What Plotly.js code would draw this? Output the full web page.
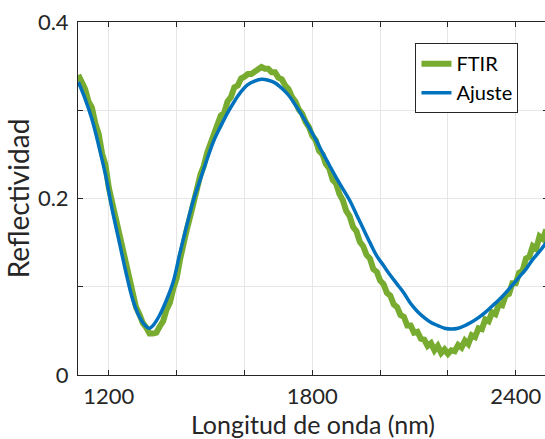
<!DOCTYPE html>
<html>
<head>
<meta charset="utf-8">
<script src="https://cdn.plot.ly/plotly-3.0.1.min.js"></script>
<style>html,body{margin:0;padding:0;overflow:hidden;background:#fff;}</style>
</head>
<body>
<div id="chart"></div>
<script>
// Wavelength grid (nm) for the FTIR measurement
const ftirX = [1110,1120,1130,1140,1150,1160,1170,1180,1190,1200,1210,1220,1230,1240,1250,1260,1270,1280,1290,1300,
1310,1320,1330,1340,1350,1360,1370,1380,1390,1400,1410,1420,1430,1440,1450,1460,1470,1480,1490,1500,
1510,1520,1530,1540,1550,1560,1570,1580,1590,1600,1610,1620,1630,1640,1650,1660,1670,1680,1690,1700,
1710,1720,1730,1740,1750,1760,1770,1780,1790,1800,1810,1820,1830,1840,1850,1860,1870,1880,1890,1900,
1910,1920,1930,1940,1950,1960,1970,1980,1990,2000,2010,2020,2030,2040,2050,2060,2070,2080,2090,2100,
2110,2120,2130,2140,2150,2160,2170,2180,2190,2200,2210,2220,2230,2240,2250,2260,2270,2280,2290,2300,
2310,2320,2330,2340,2350,2360,2370,2380,2390,2400,2410,2420,2430,2440,2450,2460,2470,2480,2490];
// Measured reflectivity (FTIR)
const ftirY = [0.340,0.333,0.324,0.310,0.303,0.285,0.273,0.251,0.238,0.212,0.195,0.175,0.158,0.139,0.122,0.104,0.091,0.077,0.069,0.059,
0.054,0.047,0.047,0.048,0.055,0.061,0.074,0.082,0.098,0.110,0.131,0.145,0.165,0.180,0.199,0.211,0.227,0.237,0.252,0.262,
0.274,0.282,0.294,0.297,0.310,0.315,0.326,0.328,0.336,0.338,0.341,0.341,0.344,0.345,0.349,0.347,0.347,0.343,0.343,0.337,
0.335,0.328,0.324,0.315,0.310,0.301,0.296,0.287,0.281,0.271,0.266,0.254,0.250,0.239,0.234,0.221,0.217,0.205,0.198,0.186,
0.180,0.168,0.163,0.151,0.146,0.136,0.132,0.120,0.117,0.107,0.103,0.093,0.090,0.080,0.077,0.068,0.066,0.056,0.056,0.048,
0.049,0.041,0.040,0.033,0.036,0.028,0.033,0.025,0.029,0.024,0.028,0.027,0.034,0.031,0.039,0.035,0.045,0.043,0.053,0.052,
0.063,0.061,0.071,0.069,0.080,0.079,0.090,0.092,0.104,0.104,0.116,0.118,0.132,0.134,0.146,0.143,0.157,0.154,0.165];

// Fitted model (Ajuste)
const ajusteX = [1110,1130,1150,1170,1190,1210,1230,1250,1270,1290,1310,1320,1330,1350,1370,1390,1410,1430,1450,1470,
1490,1510,1530,1550,1570,1590,1610,1630,1650,1670,1690,1710,1730,1750,1770,1790,1810,1830,1850,1870,
1890,1910,1930,1950,1970,1990,2010,2030,2050,2070,2090,2110,2130,2150,2170,2190,2210,2230,2250,2270,
2290,2310,2330,2350,2370,2390,2410,2430,2450,2470,2490];
const ajusteY = [0.332,0.313,0.290,0.260,0.227,0.187,0.152,0.117,0.086,0.066,0.055,0.053,0.056,0.068,0.085,0.106,0.139,0.170,0.199,0.222,
0.245,0.266,0.282,0.297,0.310,0.321,0.329,0.333,0.335,0.334,0.331,0.325,0.317,0.306,0.294,0.281,0.267,0.252,0.238,0.224,
0.211,0.198,0.182,0.166,0.150,0.135,0.124,0.113,0.103,0.093,0.081,0.072,0.065,0.0595,0.056,0.053,0.052,0.053,0.056,0.060,
0.065,0.071,0.078,0.085,0.093,0.102,0.111,0.120,0.131,0.140,0.150];

const xTickVals = [1200,1400,1600,1800,2000,2200,2400];
const xTickText = ['1200','','','1800','','','2400'];
const yTickVals = [0,0.1,0.2,0.3,0.4];
const yTickText = ['0','','0.2','','0.4'];

const traces = [
  {x: ftirX, y: ftirY, name: 'FTIR', type: 'scatter', mode: 'lines',
   line: {color: '#77AC30', width: 6}},
  {x: ajusteX, y: ajusteY, name: 'Ajuste', type: 'scatter', mode: 'lines',
   line: {color: '#0072BD', width: 3.5, shape: 'spline'}}
];

const axisCommon = {
  showline: true, linecolor: '#262626', linewidth: 1, mirror: 'ticks',
  ticks: 'inside', ticklen: 5, tickcolor: '#262626', tickwidth: 1,
  showgrid: true, gridcolor: '#e6e6e6', gridwidth: 1, zeroline: false,
  tickfont: {family: 'Lato, sans-serif', size: 22, color: '#262626'}
};

const layout = {
  width: 549, height: 439,
  margin: {l: 78, r: 1, t: 22, b: 64},
  paper_bgcolor: '#ffffff', plot_bgcolor: '#ffffff',
  showlegend: true,
  legend: {x: 0.718, y: 0.94, xanchor: 'left', yanchor: 'top',
    bgcolor: '#ffffff', bordercolor: '#262626', borderwidth: 1,
    font: {family: 'Lato, sans-serif', size: 20, color: '#000000'},
    itemwidth: 30, tracegroupgap: 0},
  xaxis: Object.assign({}, axisCommon, {
    range: [1109, 2495], tickmode: 'array', tickvals: xTickVals, ticktext: xTickText,
    ticklabelstandoff: 2,
    title: {text: 'Longitud de onda (nm)', standoff: 10,
      font: {family: 'Lato, sans-serif', size: 25, color: '#262626'}}
  }),
  yaxis: Object.assign({}, axisCommon, {
    range: [0, 0.4], tickmode: 'array', tickvals: yTickVals, ticktext: yTickText,
    ticklabelstandoff: 4,
    title: {text: 'Reflectividad', standoff: 0,
      font: {family: 'Lato, sans-serif', size: 28, color: '#262626'}}
  })
};

Plotly.newPlot('chart', traces, layout, {displayModeBar: false, staticPlot: true});
</script>
</body>
</html>
